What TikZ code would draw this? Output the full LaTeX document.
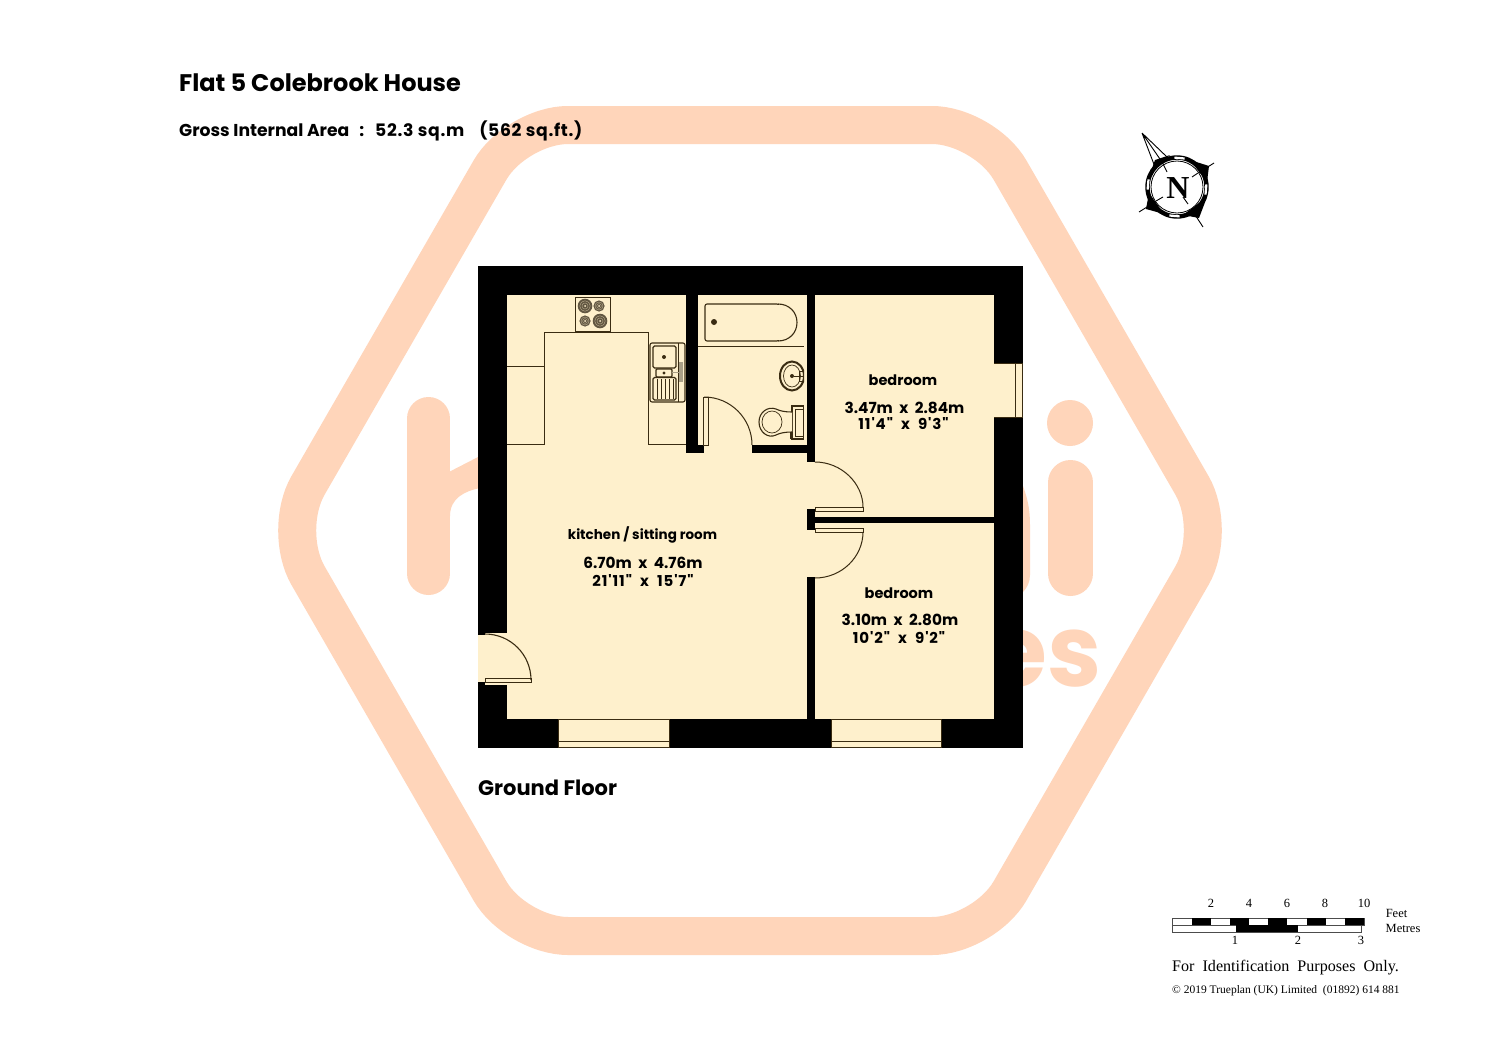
\documentclass[tikz,border=0pt]{standalone}
\usepackage{fontspec}
\setmainfont{Liberation Serif}
\newfontfamily\rnd{Poppins}
\definecolor{peach}{RGB}{255,213,186}
\definecolor{cream}{RGB}{254,240,204}
\definecolor{ink}{RGB}{58,44,18}
\definecolor{tapgrey}{RGB}{170,160,135}
\tikzset{
  wm/.style={line width=#1,draw=peach,line cap=round},
  wall/.style={fill=black,draw=none},
  room/.style={fill=cream,draw=none},
  fit/.style={draw=ink,line width=1.1pt},
  worktop/.style={draw=ink,line width=0.9pt},
  fine/.style={draw=ink,line width=0.7pt},
  door/.style={draw=ink,line width=1pt,fill=cream},
  rlabel/.style={font=\rnd\bfseries\fontsize{14.5}{16}\selectfont,inner sep=0pt,text=black},
  klabel/.style={font=\rnd\bfseries\fontsize{13.5}{16}\selectfont,inner sep=0pt,text=black},
  dlabel/.style={font=\rnd\bfseries\fontsize{15.3}{16}\selectfont,inner sep=0pt,text=black},
  ilabel/.style={font=\rnd\bfseries\fontsize{15}{16}\selectfont\addfontfeature{LetterSpace=6},inner sep=0pt,text=black},
  slabel/.style={font=\fontsize{12.5}{14}\selectfont,inner sep=0pt},
  fitdot/.style={fill=ink,draw=none}
}
\begin{document}
\begin{tikzpicture}[x=1pt,y=-1pt]
\useasboundingbox (0,0) rectangle (1500,1060);
\fill[white] (0,0) rectangle (1500,1060);
% watermark
\draw[draw=peach,line width=38pt,rounded corners=52pt] (750,125)--(984,125)--(1218,530.5)--(984,936)--(516,936)--(282,530.5)--(516,125)--cycle;
\draw[wm=43pt] (428.5,418.5)--(428.5,573.5);
\fill[peach] (445,474)--(480,456)--(480,488) .. controls (465,491) and (450,498) .. (450,516) -- (445,516)--cycle;
\fill[peach] (1023,486) .. controls (1028,500) and (1030,510) .. (1030,525) -- (1030,575) .. controls (1030,582) and (1027,588) .. (1023,592) -- cycle;
\draw[wm=45pt] (1070.5,482.5)--(1070.5,573.5);
\fill[peach] (1070,423) circle[radius=23pt];
\node[anchor=base east,inner sep=0pt,text=peach,font=\rnd\bfseries\fontsize{100}{100}\selectfont,xscale=0.97] (wmes) at (1102,686) {es};
% plan shell
\fill[wall] (478,266) rectangle (1023,748);
% kitchen + rooms
\fill[room] (507,295) rectangle (807,719);
\fill[room] (698,295) rectangle (804,445);
\fill[room] (815,295) rectangle (994,517);
\fill[room] (815,523) rectangle (994,719);
\fill[wall] (686,295) rectangle (698,453);
\fill[wall] (686,445) rectangle (704,453);
\fill[wall] (752,445) rectangle (807,453);
\fill[room] (807,462) rectangle (815,509);
\fill[room] (807,530) rectangle (815,577);
% window right
\fill[room] (994,363) rectangle (1023,417);
\draw[fine] (1015,363)--(1015,417) (1022,363)--(1022,417) (994,363)--(1023,363) (994,417)--(1023,417);
% bottom windows
\fill[room] (558,719) rectangle (669,748);
\draw[fine] (558,719) rectangle (669,747.5) (558,741)--(669,741);
\fill[room] (831,719) rectangle (941,748);
\draw[fine] (831,719) rectangle (941,747.5) (831,741)--(941,741);
% entrance
\fill[room] (478,635) rectangle (507,682);
\fill[room] (485,632.7) rectangle (507,685);
\draw[door] (485,678) rectangle (531,682);
\draw[draw=ink,line width=1.1pt] (485,634) .. controls (510.4,634) and (531,654.6) .. (531,680);
% bedroom doors
\draw[door] (815,507) rectangle (863,511);
\draw[door] (815,528.5) rectangle (863,532);
\draw[draw=ink,line width=1pt] (815,462) .. controls (841.5,462) and (863,483.5) .. (863,507);
\draw[draw=ink,line width=1pt] (863,532) .. controls (863,557) and (841.5,578) .. (815,578);
% bathroom door
\draw[door] (703,397) rectangle (708,445);
\draw[draw=ink,line width=1pt] (704,397) .. controls (730.5,397) and (752,418.5) .. (752,445);
% worktops
\draw[worktop] (507,366)--(544,366) (507,444)--(544,444)--(544,332)--(648,332)--(648,444)--(686,444);
% hob
\draw[worktop] (575,297) rectangle (610,331);
\foreach \cx/\cy/\rr in {585/306/7.3,599/306/5.6,585/321/5.6,600/321/7.3}{
  \fill[ink!80] (\cx,\cy) circle[radius=\rr pt];
  \draw[cream!70!ink,line width=0.35pt] (\cx,\cy) circle[radius=\rr*0.72 pt];
  \draw[cream!70!ink,line width=0.35pt] (\cx,\cy) circle[radius=\rr*0.42 pt];
  \fill[cream] (\cx,\cy) circle[radius=1pt];
}
% sink
\draw[fit,rounded corners=2pt] (650,343) rectangle (685,402);
\draw[fine] (678,343)--(678,402);
\draw[fit,rounded corners=1.5pt] (653,346) rectangle (676,368);
\fill[fitdot] (664,357) circle[radius=2pt];
\draw[fit,rounded corners=1pt] (656,369) rectangle (672,377);
\fill[fitdot] (664,373) circle[radius=1.7pt];
\draw[fit,rounded corners=1.5pt] (653,377.5) rectangle (676,400);
\foreach \xx in {657,661,665,669,673}{\draw[fine] (\xx,379)--(\xx,399);}
\fill[tapgrey] (679,362) rectangle (683,382);
\draw[fine,draw=tapgrey] (672,372)--(681,372);
% bath
\draw[fit,rounded corners=2pt] (705,304) -- (779,304) -- (779,341) -- (705,341) -- cycle;
\fill[room] (776,305) rectangle (781,340);
\draw[fit] (778,304) .. controls (789,304) and (797,312) .. (797,322.5) .. controls (797,333) and (789,341) .. (778,341);
\fill[fitdot] (714,322) circle[radius=3pt];
\draw[fine] (698,346)--(804,346);
% basin
\begin{scope}
\clip (770,350) rectangle (804,395);
\draw[draw=ink,line width=2pt] (792,376) ellipse[x radius=12pt,y radius=14.5pt];
\draw[fine] (792,376) ellipse[x radius=8.5pt,y radius=11pt];
\end{scope}
\fill[fitdot] (792,376) circle[radius=2pt];
\draw[fine] (794,376)--(803,376);
\draw[fine] (799,371) rectangle (803,381);
% wc
\draw[fit] (792,406) rectangle (803.5,439);
\draw[fine] (795,409) rectangle (803.5,436);
\draw[fit,fill=cream] (792,412) .. controls (785,412) and (780,411) .. (776,409) .. controls (768,406) and (759,412) .. (759,422) .. controls (759,432) and (768,439) .. (776,435) .. controls (780,433) and (785,432) .. (792,432);
\draw[fine] (772,422) ellipse[x radius=10pt,y radius=11pt];
\draw[fine] (790,432) rectangle (792,438);
% texts
\node[anchor=base west,inner sep=0pt,font=\rnd\bfseries\fontsize{24}{25}\selectfont] (title) at (179,91) {Flat 5 Colebrook House};
\node[anchor=base west,inner sep=0pt,font=\rnd\bfseries\fontsize{17.2}{18}\selectfont] (area) at (179,136.5) {Gross Internal Area\hspace{10pt}:\hspace{11pt}{\addfontfeature{LetterSpace=4}52.3 sq.m}\hspace{15pt}{\addfontfeature{LetterSpace=4}(562 sq.ft.)}};
\node[anchor=base west,inner sep=0pt,font=\rnd\bfseries\fontsize{21}{22}\selectfont] (floor) at (478,795) {Ground Floor};
\node[rlabel] (r1) at (903,380) {bedroom};
\node[dlabel] (r1a) at (904.5,408) {3.47m\ \ x\ \ 2.84m};
\node[ilabel] (r1b) at (903.5,424) {11'4"\ \ x\ \ 9'3"};
\node[rlabel] (r2) at (899,593) {bedroom};
\node[dlabel] (r2a) at (900,620) {3.10m\ \ x\ \ 2.80m};
\node[ilabel] (r2b) at (899,637.5) {10'2"\ \ x\ \ 9'2"};
\node[klabel] (r3) at (642.5,535) {kitchen / sitting room};
\node[dlabel] (r3a) at (643,563) {6.70m\ \ x\ \ 4.76m};
\node[ilabel] (r3b) at (643,580) {21'11"\ \ x\ \ 15'7"};
% compass
\draw[black,line width=0.9pt] (1142,133)--(1155,167) (1142,133)--(1167,157) (1142,133)--(1162,162);
\fill (1155,160)--(1170,155)--(1150,174)--cycle;
\fill (1209,166)--(1190,160)--(1207,182)--cycle;
\fill (1199,218)--(1207,197)--(1183,215)--cycle;
\fill (1146,209)--(1149,193)--(1164,214)--cycle;
\draw[line width=0.9pt] (1214,163)--(1192,177) (1203,227)--(1188,204) (1139,212)--(1163,197);
\draw[line width=4.4pt] (1177,187) circle[radius=29.5pt];
\foreach \a in {-5,85,175,265}{\draw[white,line width=2.2pt] ({1177+29.5*cos(\a-10)},{187-29.5*sin(\a-10)}) .. controls ({1177+30*cos(\a)},{187-30*sin(\a)}) .. ({1177+29.5*cos(\a+10)},{187-29.5*sin(\a+10)});}
\draw[line width=0.8pt,fill=white] (1177,187) circle[radius=26pt];
\draw[line width=0.9pt] (1162,162)--(1167,172) (1192,177)--(1198,173) (1188,204)--(1183,197) (1163,197)--(1156,201);
\node[inner sep=0pt,font=\bfseries\fontsize{32}{34}\selectfont] (north) at (1178,188) {N};
% scale
\draw[line width=0.6pt,draw=black!70] (1172,918) rectangle (1364,925);
\draw[line width=0.6pt,draw=black!70] (1172,925) rectangle (1361,932);
\foreach \a/\b in {1192/1211,1230/1249,1268/1287,1307/1326,1345/1364}{\fill (\a,918) rectangle (\b,925);}
\fill (1236,925) rectangle (1298,932);
\foreach \xx/\tt in {1211/2,1249/4,1287/6,1325/8,1364/10}{\node[slabel] at (\xx,903) {\tt};}
\foreach \xx/\tt in {1235/1,1298/2,1361/3}{\node[slabel] at (\xx,940) {\tt};}
\node[slabel] (feet) at (1396.5,913) {Feet};
\node[slabel] (metres) at (1403,928) {Metres};
\node[anchor=base west,inner sep=0pt,font=\fontsize{16.1}{17}\selectfont] (ident) at (1172,971) {For\ \ Identification\ \ Purposes\ \ Only.};
\node[anchor=base west,inner sep=0pt,font=\fontsize{11.5}{13}\selectfont] (copy) at (1172,993) {\textcopyright\ 2019 Trueplan (UK) Limited\ \ (01892) 614 881};
\end{tikzpicture}
\end{document}
